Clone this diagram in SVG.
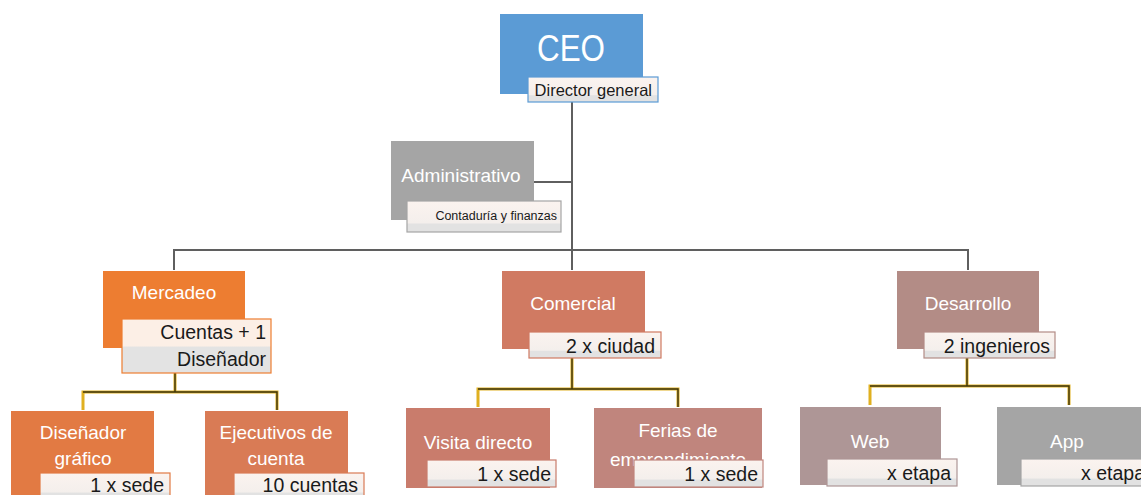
<svg xmlns="http://www.w3.org/2000/svg" width="1141" height="495" viewBox="0 0 1141 495">
<defs>
<linearGradient id="lg" x1="0" y1="0" x2="0" y2="1">
<stop offset="0" stop-color="#fbf3ef"/>
<stop offset="0.7" stop-color="#f4efec"/>
<stop offset="0.75" stop-color="#e2e2e2"/>
<stop offset="1" stop-color="#e2e2e2"/>
</linearGradient>
<linearGradient id="lg2" x1="0" y1="0" x2="0" y2="1">
<stop offset="0" stop-color="#fcefe6"/>
<stop offset="0.5" stop-color="#fcefe6"/>
<stop offset="0.52" stop-color="#e3e3e3"/>
<stop offset="1" stop-color="#e3e3e3"/>
</linearGradient>
</defs>
<style>
text{font-family:"Liberation Sans",Arial,sans-serif}
.t{fill:#ffffff;text-anchor:middle;font-size:19px}
.l{fill:#1a1a1a;text-anchor:end;font-size:19.5px}
.lab{fill:url(#lg);stroke-width:1.2}
.main{stroke:#5f5f5f;stroke-width:2;fill:none}
.gold{stroke:#e0b020;stroke-width:3;fill:none}
.goldc{stroke:#3b3410;stroke-width:1.4;fill:none}
</style>
<rect width="1141" height="495" fill="#ffffff"/>
<g id="connectors">
<path class="main" d="M572 102V250M534 182H572M174 270V250H968V270M572 250V270"/>
<path class="gold" d="M175 373V392M83 410V392H277V410M572 358V389M478 407V389H678V407M967 358V386M870 405V386H1069V405"/>
<path class="goldc" d="M175 373V392M83 392H277V410M572 358V389M478 389H678V407M967 358V386M870 386H1069V405"/>
</g>
<g id="ceo">
<rect x="500" y="14" width="143" height="80" fill="#5b9bd5"/>
<text class="t" x="571" y="61" style="font-size:37px" textLength="68" lengthAdjust="spacingAndGlyphs">CEO</text>
<rect class="lab" x="528" y="77" width="130" height="25" stroke="#5b9bd5"/>
<text class="l" x="652" y="96" style="font-size:16.5px">Director general</text>
</g>
<g id="administrativo">
<rect x="391" y="141" width="143" height="79" fill="#a5a5a5"/>
<text class="t" x="461" y="182">Administrativo</text>
<rect class="lab" x="407" y="201" width="154" height="31" stroke="#a5a5a5"/>
<text class="l" x="557" y="220" style="font-size:12.5px">Contaduría  y finanzas</text>
</g>
<g id="mercadeo">
<rect x="103" y="271" width="142" height="77" fill="#ed7d31"/>
<text class="t" x="174" y="299">Mercadeo</text>
<rect x="122" y="319" width="149" height="54" fill="url(#lg2)" stroke="#ed7d31" stroke-width="1.2"/>
<text class="l" x="266" y="339">Cuentas +  1</text>
<text class="l" x="266" y="366">Diseñador</text>
</g>
<g id="disenador">
<rect x="11" y="411" width="143" height="84" fill="#e27a43"/>
<text class="t" x="83" y="439">Diseñador</text>
<text class="t" x="83" y="465">gráfico</text>
<rect class="lab" x="40" y="473" width="130" height="27" stroke="#e27a43"/>
<text class="l" x="164" y="492">1 x sede</text>
</g>
<g id="ejecutivos">
<rect x="205" y="411" width="143" height="84" fill="#d97b55"/>
<text class="t" x="276" y="439">Ejecutivos de</text>
<text class="t" x="276" y="465">cuenta</text>
<rect class="lab" x="234" y="473" width="130" height="27" stroke="#d97b55"/>
<text class="l" x="358" y="492">10 cuentas</text>
</g>
<g id="comercial">
<rect x="502" y="271" width="143" height="78" fill="#d07a62"/>
<text class="t" x="573" y="310">Comercial</text>
<rect class="lab" x="529" y="332" width="132" height="26" stroke="#d07a62"/>
<text class="l" x="655" y="353">2 x ciudad</text>
</g>
<g id="visita">
<rect x="406" y="408" width="144" height="80" fill="#c97c6c"/>
<text class="t" x="478" y="449">Visita directo</text>
<rect class="lab" x="427" y="460" width="129" height="27" stroke="#c97c6c"/>
<text class="l" x="551" y="481">1 x sede</text>
</g>
<g id="ferias">
<rect x="594" y="408" width="168" height="80" fill="#c0857d"/>
<text class="t" x="678" y="437">Ferias de</text>
<text class="t" x="678" y="466">emprendimiento</text>
<rect class="lab" x="634" y="460" width="129" height="27" stroke="#c0857d"/>
<text class="l" x="758" y="481">1 x sede</text>
</g>
<g id="desarrollo">
<rect x="897" y="271" width="142" height="78" fill="#b38c86"/>
<text class="t" x="968" y="310">Desarrollo</text>
<rect class="lab" x="924" y="332" width="131" height="26" stroke="#b38c86"/>
<text class="l" x="1050" y="353">2 ingenieros</text>
</g>
<g id="web">
<rect x="800" y="407" width="141" height="78" fill="#ae9696"/>
<text class="t" x="870" y="448">Web</text>
<rect class="lab" x="827" y="459" width="130" height="27" stroke="#ae9696"/>
<text class="l" x="951" y="480">x etapa</text>
</g>
<g id="app">
<rect x="997" y="407" width="150" height="78" fill="#a5a5a5"/>
<text class="t" x="1067" y="448">App</text>
<rect class="lab" x="1021" y="459" width="130" height="27" stroke="#a5a5a5"/>
<text class="l" x="1145" y="480">x etapa</text>
</g>
</svg>
